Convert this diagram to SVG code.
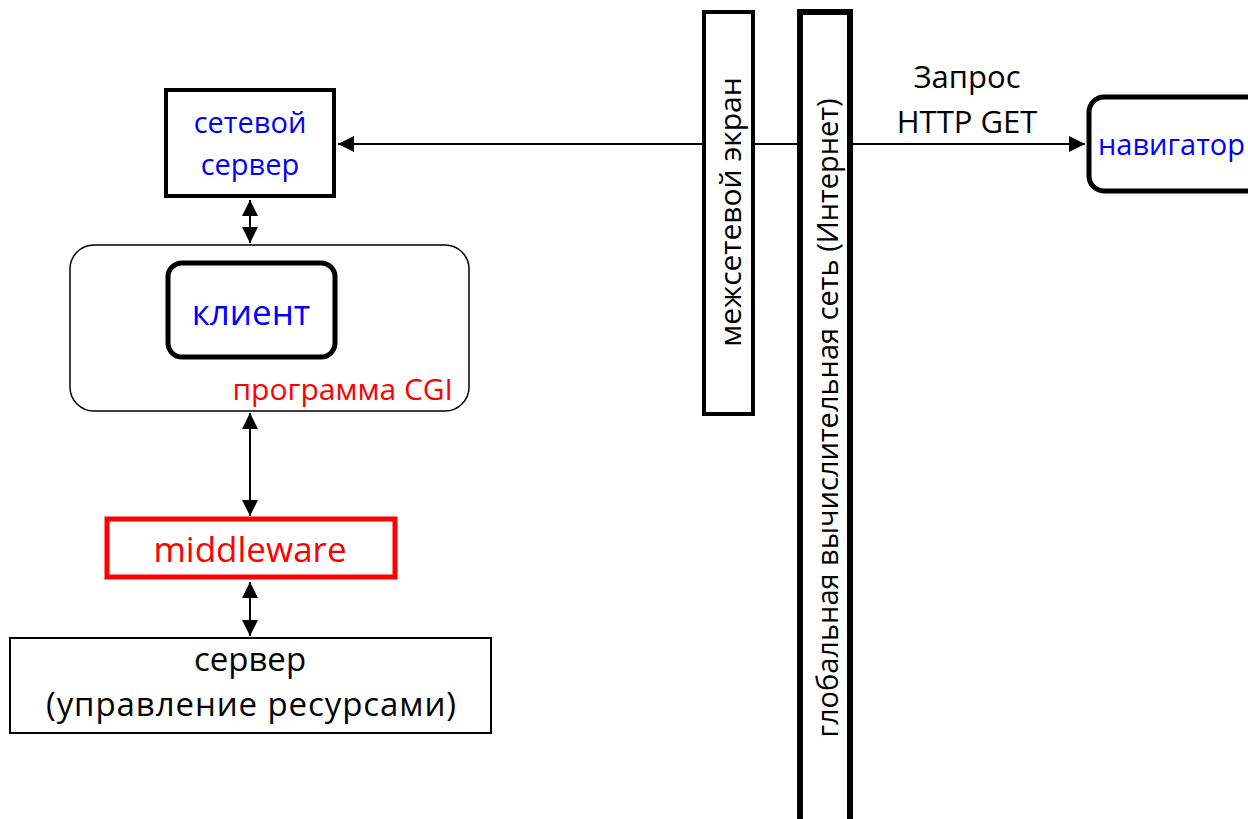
<svg xmlns="http://www.w3.org/2000/svg" width="1248" height="819" viewBox="0 0 1248 819">
<style>
text { font-family: "Open Sans", "Noto Sans", "DejaVu Sans", sans-serif; }
.blue { fill: #0000FF; }
.red { fill: #FF0000; }
.blk { fill: #000000; }
.mid { text-anchor: middle; }
.conn { stroke: #000; stroke-width: 2; fill: none; }
</style>
<defs>
<marker id="ah" markerUnits="userSpaceOnUse" markerWidth="16" markerHeight="16" viewBox="0 0 15 15" refX="15" refY="7.5" orient="auto-start-reverse">
<path d="M0,0 L15,7.5 L0,15 Z" fill="#000"/>
</marker>
</defs>
<rect width="1248" height="819" fill="#fff"/>

<g id="connectors">
<line class="conn" x1="338" y1="144" x2="1085" y2="144" marker-start="url(#ah)" marker-end="url(#ah)"/>
<line class="conn" x1="250" y1="200" x2="250" y2="243" marker-start="url(#ah)" marker-end="url(#ah)"/>
<line class="conn" x1="250" y1="413" x2="250" y2="516" marker-start="url(#ah)" marker-end="url(#ah)"/>
<line class="conn" x1="250" y1="582" x2="250" y2="636" marker-start="url(#ah)" marker-end="url(#ah)"/>
</g>

<g id="web-server">
<rect x="166" y="90" width="168" height="106" fill="#fff" stroke="#000" stroke-width="4"/>
<text class="blue mid" x="250" y="133" font-size="29">сетевой</text>
<text class="blue mid" x="250" y="175" font-size="29">сервер</text>
</g>

<g id="cgi-program">
<rect x="70" y="245" width="399" height="166" rx="24" fill="#fff" stroke="#000" stroke-width="1.5"/>
<text class="red" x="453" y="400" font-size="30" text-anchor="end">программа CGI</text>
</g>

<g id="client">
<rect x="168" y="263" width="167" height="94" rx="14" fill="#fff" stroke="#000" stroke-width="5"/>
<text class="blue mid" x="251" y="325" font-size="35">клиент</text>
</g>

<g id="middleware">
<rect x="107" y="519" width="288" height="58" fill="#fff" stroke="#FF0000" stroke-width="5"/>
<text class="red mid" x="250" y="562" font-size="35">middleware</text>
</g>

<g id="server">
<rect x="10" y="638" width="481" height="95" fill="#fff" stroke="#000" stroke-width="2"/>
<text class="blk mid" x="250" y="671" font-size="33">сервер</text>
<text class="blk mid" x="251" y="716" font-size="33" textLength="410" lengthAdjust="spacing">(управление ресурсами)</text>
</g>

<g id="firewall">
<rect x="704" y="12" width="49" height="402" fill="#fff" stroke="#000" stroke-width="4"/>
<text class="blk mid" transform="translate(729 212) rotate(-90)" dominant-baseline="central" font-size="30">межсетевой экран</text>
</g>

<g id="internet">
<rect x="800" y="12" width="50" height="820" fill="#fff" stroke="#000" stroke-width="6"/>
<text class="blk mid" transform="translate(826 418) rotate(-90)" dominant-baseline="central" font-size="29">глобальная вычислительная сеть (Интернет)</text>
</g>

<g id="request-label">
<text class="blk mid" x="967" y="88" font-size="31">Запрос</text>
<text class="blk mid" x="967" y="133" font-size="31">HTTP GET</text>
</g>

<g id="navigator">
<rect x="1089" y="97" width="180" height="94" rx="15" fill="#fff" stroke="#000" stroke-width="5"/>
<text class="blue" x="1098" y="155" font-size="29">навигатор</text>
</g>
</svg>
